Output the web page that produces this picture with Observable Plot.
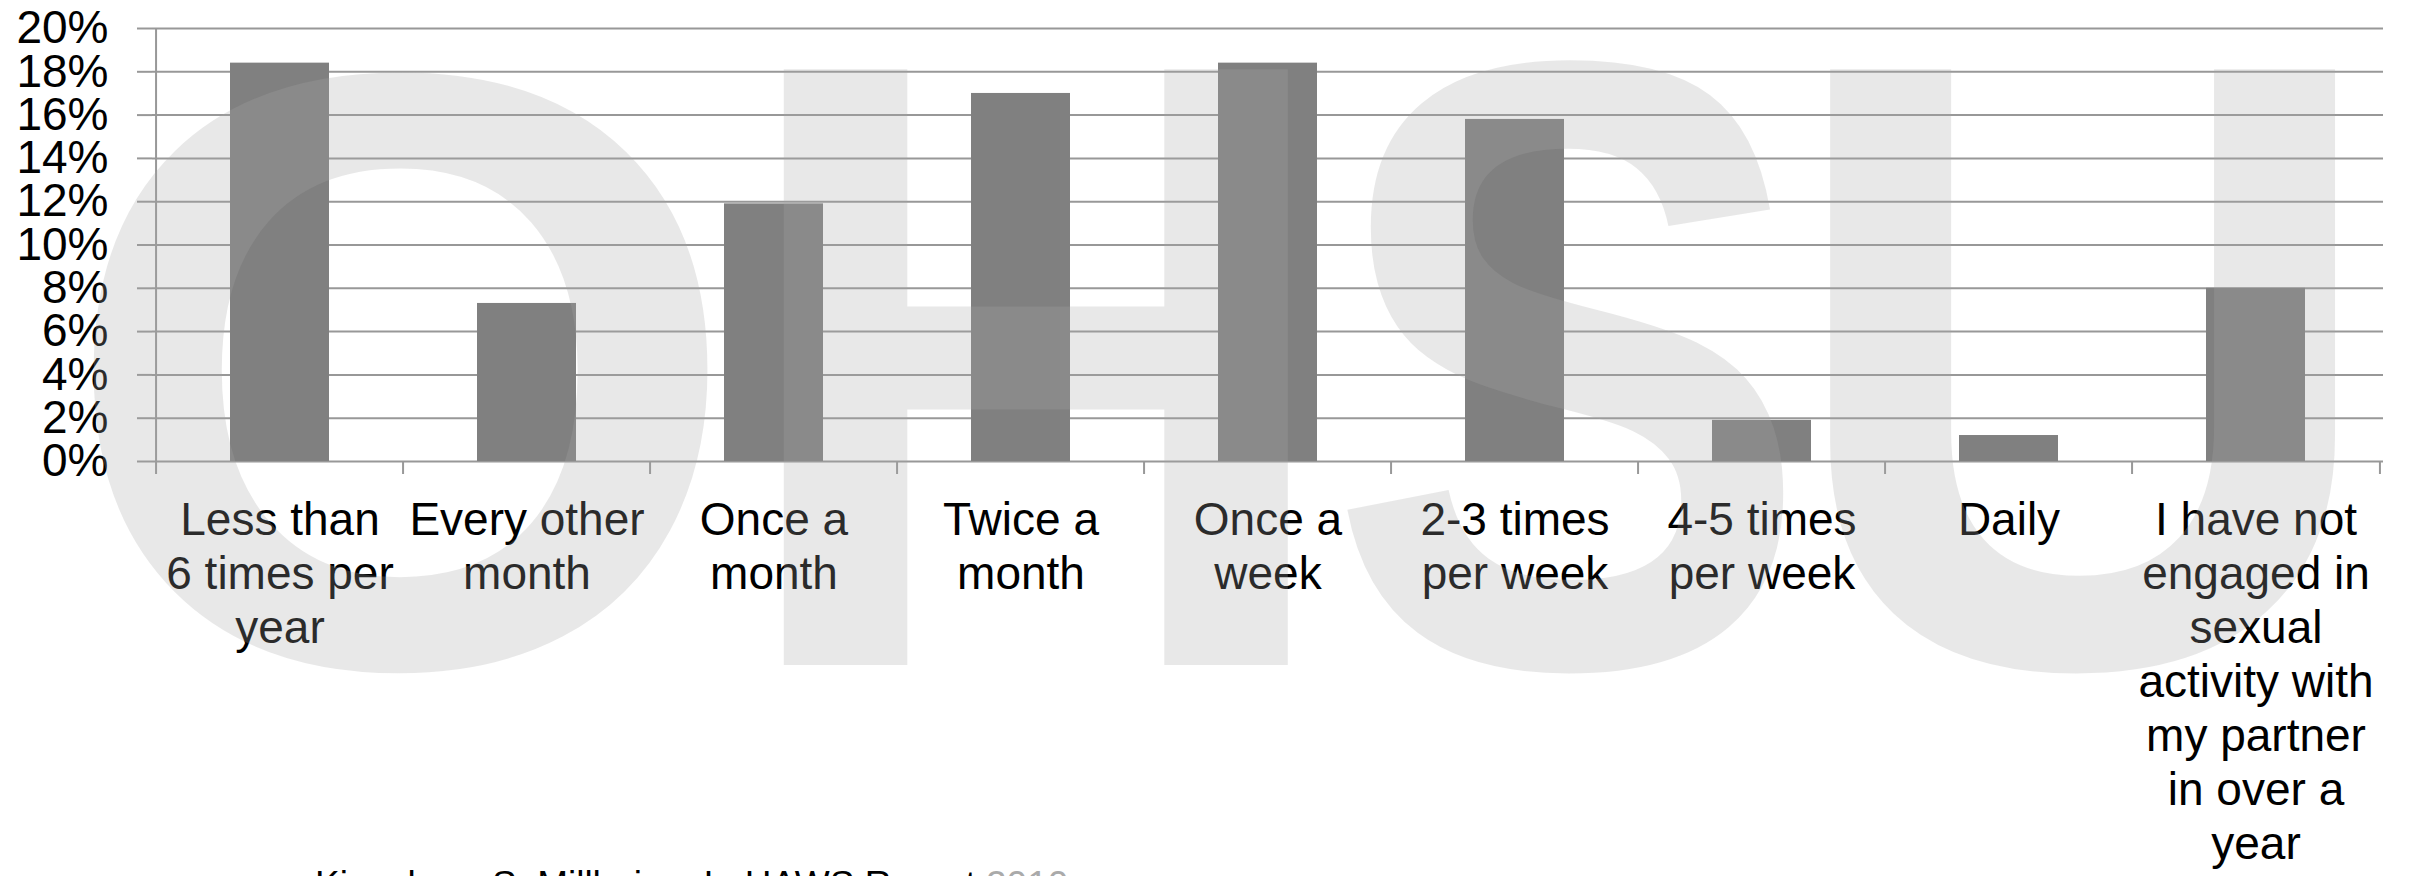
<!DOCTYPE html>
<html>
<head>
<meta charset="utf-8">
<script src="https://cdn.jsdelivr.net/npm/d3@7"></script>
<script src="https://cdn.jsdelivr.net/npm/@observablehq/plot@0.6"></script>
<style>
  html, body { margin: 0; padding: 0; background: #fff; overflow: hidden; }
  #wrap { position: relative; width: 2412px; height: 876px; }
  #chart svg { display: block; }
  #mark { position: absolute; left: 0; top: 0; pointer-events: none; }
  #caption {
    position: absolute; left: 315px; top: 866px; margin: 0;
    font: 37px/1 "Liberation Sans", Arial, sans-serif; color: #000; white-space: nowrap;
  }
  #caption span { color: #aaa; }
</style>
</head>
<body>
<div id="wrap">
  <div id="chart"></div>
  <svg id="mark" width="2412" height="876"></svg>
  <p id="caption">Kingsberg S, Millheiser L. HAWS Report <span>2010</span></p>
</div>
<script>
// Frequency of sexual activity with partner (share of respondents)
const categories = [
  "Less than 6 times per year",
  "Every other month",
  "Once a month",
  "Twice a month",
  "Once a week",
  "2-3 times per week",
  "4-5 times per week",
  "Daily",
  "I have not engaged in sexual activity with my partner in over a year"
];
const tickLabels = [
  "Less than\n6 times per\nyear",
  "Every other\nmonth",
  "Once a\nmonth",
  "Twice a\nmonth",
  "Once a\nweek",
  "2-3 times\nper week",
  "4-5 times\nper week",
  "Daily",
  "I have not\nengaged in\nsexual\nactivity with\nmy partner\nin over a\nyear"
];
const percents = [18.4, 7.3, 11.9, 17.0, 18.4, 15.8, 1.9, 1.2, 8.0];
const yTicks = [0, 2, 4, 6, 8, 10, 12, 14, 16, 18, 20];

const rows = categories.map((c, i) => ({category: c, percent: percents[i]}));

const W = 2412, H = 862;
const mL = 152, mR = 29, mT = 28, mB = 401;
const step = (W - mL - mR) / categories.length;
const lineGray = "#989898";

const chart = Plot.plot({
  width: W,
  height: H,
  marginLeft: mL,
  marginRight: mR,
  marginTop: mT,
  marginBottom: mB,
  style: {
    fontFamily: "'Liberation Sans', Arial, sans-serif",
    fontSize: "46px",
    color: "#000",
    background: "#fff",
    overflow: "visible"
  },
  x: {domain: categories, paddingInner: 0.6, paddingOuter: 0.3},
  y: {domain: [0, 20]},
  marks: [
    Plot.gridY(yTicks, {stroke: lineGray, strokeOpacity: 1, strokeWidth: 2}),
    Plot.axisY(yTicks, {
      tickSize: 15, tickPadding: 29, tickFormat: d => d + "%",
      stroke: lineGray, strokeWidth: 2, fill: "#000", fontSize: 46, label: null
    }),
    Plot.barY(rows, {x: "category", y: "percent", fill: "#808080"}),
    // vertical axis line with its bottom tick
    Plot.ruleX([categories[0]], {x: d => d, y1: 20, y2: 0, dx: -step / 2, insetBottom: -13, stroke: lineGray, strokeWidth: 2}),
    // category separators below the baseline
    Plot.ruleX(categories.slice(1), {x: d => d, y1: 0, y2: 0, dx: -step / 2, insetBottom: -13, stroke: lineGray, strokeWidth: 2}),
    Plot.ruleX([categories[categories.length - 1]], {x: d => d, y1: 0, y2: 0, dx: step / 2, insetBottom: -13, stroke: lineGray, strokeWidth: 2}),
    Plot.axisX({
      tickSize: 0, tickPadding: 35, label: null,
      tickFormat: d => tickLabels[categories.indexOf(d)],
      lineHeight: 1.174, fontSize: 46, fill: "#000"
    })
  ]
});
document.getElementById("chart").append(chart);

// translucent OHSU lettering laid over the plot
const mark = d3.select("#mark");
const letters = [
  {t: "O", cx: 401, sx: 1.02, sy: 0.98},
  {t: "H", cx: 1036, sx: 0.99, sy: 1.0},
  {t: "S", cx: 1569, sx: 0.84, sy: 1.0},
  {t: "U", cx: 2083, sx: 0.97, sy: 1.0}
];
mark.selectAll("text")
  .data(letters)
  .join("text")
  .attr("transform", d => `translate(${d.cx},665) scale(${d.sx},${d.sy})`)
  .attr("text-anchor", "middle")
  .attr("font-family", "'Liberation Sans', Arial, sans-serif")
  .attr("font-weight", "bold")
  .attr("font-size", 866)
  .attr("fill", "#a6a6a6")
  .attr("fill-opacity", 0.26)
  .text(d => d.t);
</script>
</body>
</html>
